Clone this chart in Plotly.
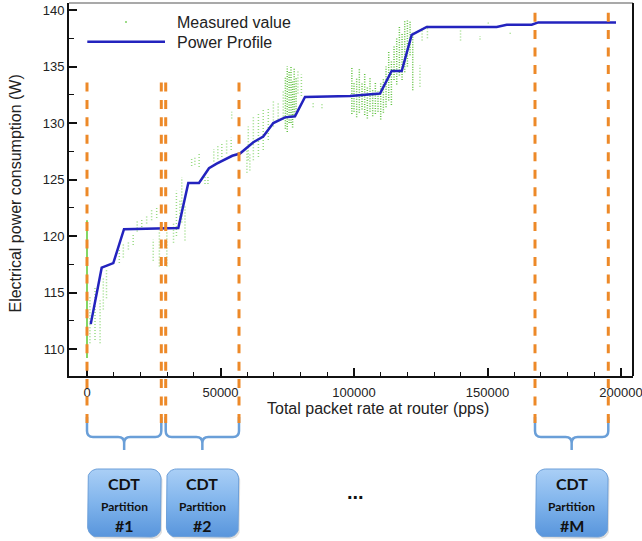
import numpy as np
import plotly.graph_objects as go

W, H = 642, 541

# ---- data ---------------------------------------------------------------
# Piecewise-linear power profile (pps -> W)
profile_rate = [1400, 5500, 9850, 13860, 34200, 37940, 41950, 45690, 48570,
                54420, 57300, 62300, 66000, 69780, 74160, 77900, 81650, 98500,
                109740, 114100, 117870, 121600, 127230, 153450, 157200,
                166550, 169020, 198130]
profile_power = [112.2, 117.2, 117.6, 120.6, 120.7, 124.7, 124.7, 126.0, 126.4,
                 127.1, 127.3, 128.3, 128.8, 130.0, 130.5, 130.6, 132.3, 132.4,
                 132.6, 134.6, 134.6, 137.8, 138.5, 138.5, 138.7,
                 138.7, 138.9, 138.9]

# Measured samples: each entry is a run of readings at one packet rate
meas_rate = [1100, 3000, 4900, 6100, 7300, 12100, 13600, 15500, 17300, 18800,
             20500, 22350, 24200, 26100, 24800, 27100, 29900, 32400, 33500,
             34800, 35500, 36700, 39200, 40400, 42000, 44200, 45300, 47500,
             49000, 50500, 52300, 54000, 54200, 59900, 61000, 60400, 62300,
             64200, 66000, 67900, 69800, 71600, 73500, 79000, 80300, 84700,
             88000, 124700, 125500, 127500, 139900, 147200, 150300, 158500]
meas_low = [110.5, 110.8, 110.5, 113.5, 114.5, 117.6, 118.1, 118.8, 119.2, 120.4,
            120.8, 121.1, 121.4, 121.6, 117.8, 117.3, 117.3, 119.4, 120.0,
            121.7, 121.2, 119.6, 126.2, 126.3, 126.1, 124.6, 124.6, 126.6,
            126.8, 127.0, 127.3, 127.6, 130.4, 125.6, 125.8, 126.7, 126.7,
            127.0, 127.6, 128.5, 129.7, 130.3, 130.3, 132.6, 132.4, 131.4,
            131.3, 133.2, 137.3, 137.5, 137.3, 137.4, 138.8, 137.9]
meas_high = [114.6, 115.5, 114.3, 116.4, 117.0, 118.9, 119.4, 119.6, 120.1, 121.3,
             121.6, 121.9, 122.3, 122.6, 119.7, 120.5, 120.3, 121.1, 124.0,
             123.2, 125.2, 122.6, 126.9, 127.1, 127.3, 125.2, 125.3, 127.7,
             128.0, 128.2, 128.5, 128.7, 131.0, 127.6, 127.4, 129.7, 130.6,
             130.9, 131.2, 131.4, 132.0, 131.8, 132.8, 134.7, 134.3, 131.8,
             131.7, 135.1, 138.4, 138.6, 138.2, 137.7, 139.0, 138.1]

# Dense measurement clusters (around the big steps)
dense_rate = [74300, 75000, 75700, 76400, 77000, 77600, 78300,
              99200, 100000, 101000, 102000, 103000, 104000, 105000, 106000,
              107000, 108000, 109000, 110000, 111000, 112000, 113000, 114000,
              115000, 116000, 117000, 118000, 119000, 120000, 121000, 122000]
dense_low = [129.5, 129.2, 130.0, 130.0, 129.6, 130.5, 131.0,
             130.8, 131.0, 130.5, 130.9, 131.2, 130.7, 130.4, 131.0,
             130.6, 130.8, 131.0, 130.3, 130.9, 131.4, 132.0, 131.6,
             133.8, 133.4, 134.2, 133.8, 134.5, 135.0, 136.0, 132.9]
dense_high = [134.0, 135.0, 134.6, 135.0, 133.8, 134.8, 134.0,
              135.0, 133.6, 134.0, 134.8, 133.5, 134.4, 133.2, 134.0,
              133.0, 133.6, 132.8, 133.5, 134.0, 135.0, 136.4, 135.5,
              136.8, 137.5, 138.6, 138.0, 139.0, 139.1, 139.0, 138.0]

# Readings with no traffic
idle_rate = 0
idle_low, idle_high = 109.2, 121.4

# CDT partitions: (lower bound, upper bound, label)
part_lo = [0, 29480, 167790]
part_hi = [27830, 56930, 195240]
part_label = ["#1", "#2", "#M"]
# Boundaries whose markers start lower inside the plot
low_marker_edges = [0, 27830, 29480, 56930]
high_marker_edges = [167790, 195240]

x_tick_vals = [0, 50000, 100000, 150000, 200000]
y_tick_vals = [110, 115, 120, 125, 130, 135, 140]

# ---- layout geometry (pixels) -------------------------------------------
PL, PR, PT, PB = 69, 633, 3, 376
X_RANGE = [-6741, 204494]
Y_RANGE = [107.61, 140.62]
xscale = (X_RANGE[1] - X_RANGE[0]) / (PR - PL)   # pps per pixel

FONT = "Liberation Sans, Arial, sans-serif"
BLUE = "#2323BE"
GREEN = "rgba(70,190,30,0.55)"
GREEN_DENSE = "rgba(60,180,20,0.8)"
ORANGE = "#ED8928"
BRACE = "#6A9FD8"


def runs(xv, lo, hi):
    xs, ys = [], []
    for x, a, b in zip(xv, lo, hi):
        xs += [x, x, None]
        ys += [a, b, None]
    return xs, ys


def rounded_rect(x0, x1, y0, y1, rpx, n=10):
    rx, ry = rpx * xscale, rpx
    pts = []
    for cx, cy, t0, t1 in [(x1 - rx, y0 + ry, 90, 0), (x1 - rx, y1 - ry, 0, -90),
                           (x0 + rx, y1 - ry, -90, -180), (x0 + rx, y0 + ry, 180, 90)]:
        t = np.radians(np.linspace(t0, t1, n))
        pts += list(zip(cx + rx * np.cos(t), cy - ry * np.sin(t)))
    pts.append(pts[0])
    return [p[0] for p in pts], [p[1] for p in pts]


fig = go.Figure()

mx, my = runs(meas_rate, meas_low, meas_high)
fig.add_trace(go.Scatter(x=mx, y=my, mode="lines", hoverinfo="skip",
                         line=dict(color=GREEN, width=1.5, dash="1px,2px")))
dx, dy = runs(dense_rate, dense_low, dense_high)
fig.add_trace(go.Scatter(x=dx, y=dy, mode="lines", hoverinfo="skip",
                         line=dict(color=GREEN_DENSE, width=1.5, dash="1px,1.5px")))
fig.add_trace(go.Scatter(x=[idle_rate, idle_rate], y=[idle_low, idle_high],
                         mode="lines", hoverinfo="skip",
                         line=dict(color="rgb(90,200,50)", width=1.5)))
fig.add_trace(go.Scatter(x=profile_rate, y=profile_power, mode="lines",
                         line=dict(color=BLUE, width=2.5)))

# CDT partition boxes (x in pps, y in pixels)
BOX_TOP, BOX_BOT = 469, 537
for lo, hi, lab in zip(part_lo, part_hi, part_label):
    bx0, bx1 = lo + 0.7 * xscale, hi - 0.3 * xscale
    sx, sy = rounded_rect(bx0 + 1.5 * xscale, bx1 + 1.5 * xscale,
                          BOX_TOP + 2, BOX_BOT + 2, 10)
    fig.add_trace(go.Scatter(x=sx, y=sy, xaxis="x", yaxis="y2", mode="lines",
                             fill="toself", fillcolor="rgba(0,0,0,0.13)",
                             line=dict(width=0), hoverinfo="skip"))
    bx, by = rounded_rect(bx0, bx1, BOX_TOP, BOX_BOT, 10)
    fig.add_trace(go.Scatter(
        x=bx, y=by, xaxis="x", yaxis="y2", mode="lines", fill="toself",
        fillgradient=dict(type="vertical", start=BOX_TOP, stop=BOX_BOT,
                          colorscale=[[0, "#AACFF6"], [0.5, "#80B4EC"], [1, "#5895DC"]]),
        line=dict(color="#6C9FD9", width=1), hoverinfo="skip"))
    cx = (lo + hi) / 2
    for txt, yy, sz in [("CDT", 483.5, 16), ("Partition", 506, 12), (lab, 525, 16)]:
        fig.add_annotation(x=cx, y=yy, xref="x", yref="y2", text=f"<b>{txt}</b>",
                           showarrow=False, xanchor="center", yanchor="middle",
                           font=dict(family="Lato, sans-serif", size=sz, color="#111"))

shapes = []
# braces under each partition
r = 6
for lo, hi in zip(part_lo, part_hi):
    c = (lo + hi) / 2
    rx = r * xscale
    path = (f"M {lo},417 L {lo},{437 - r} Q {lo},437 {lo + rx},437 L {c - rx},437 "
            f"Q {c},437 {c},{437 + r} L {c},450 M {c},{437 + r} Q {c},437 {c + rx},437 "
            f"L {hi - rx},437 Q {hi},437 {hi},{437 - r} L {hi},417")
    shapes.append(dict(type="path", xref="x", yref="y2", path=path,
                       line=dict(color=BRACE, width=2.5), layer="above"))
# partition boundary markers
for edges, top in [(low_marker_edges, 74), (high_marker_edges, 12)]:
    for e in edges:
        shapes.append(dict(type="line", xref="x", yref="y2", x0=e, x1=e, y0=423, y1=top,
                           line=dict(color=ORANGE, width=3, dash="9px,8.45px"),
                           layer="above"))
# frame
shapes.append(dict(type="line", xref="paper", yref="paper", x0=PL / W, x1=PR / W,
                   y0=1 - PT / H, y1=1 - PT / H, line=dict(color="#555", width=1.2)))
shapes.append(dict(type="line", xref="paper", yref="paper", x0=PR / W, x1=PR / W,
                   y0=1 - PT / H, y1=1 - PB / H, line=dict(color="#111", width=2)))
# legend samples
shapes.append(dict(type="line", xref="paper", yref="paper", x0=87.3 / W, x1=165 / W,
                   y0=1 - 41.7 / H, y1=1 - 41.7 / H, line=dict(color=BLUE, width=2.5)))
shapes.append(dict(type="circle", xref="paper", yref="paper", x0=125 / W, x1=127 / W,
                   y0=1 - 23 / H, y1=1 - 21 / H, fillcolor="rgba(70,190,30,0.7)",
                   line=dict(width=0)))

ann_font = dict(family=FONT, size=16, color="#222")
annotations = [
    dict(x=175 / W, y=1 - 22.7 / H, text="Measured value", xanchor="left"),
    dict(x=175 / W, y=1 - 42.7 / H, text="Power Profile", xanchor="left"),
    dict(x=378 / W, y=1 - 408 / H, text="Total packet rate at router (pps)", xanchor="center"),
    dict(x=15 / W, y=1 - 193.5 / H, text="Electrical power consumption (W)",
         xanchor="center", textangle=-90),
]
for a in annotations:
    fig.add_annotation(xref="paper", yref="paper", yanchor="middle", showarrow=False,
                       font=ann_font, **a)
fig.add_annotation(xref="paper", yref="paper", x=355 / W, y=1 - 505 / H, text="<b>...</b>",
                   showarrow=False, font=dict(family=FONT, size=20, color="#111"))

axis_common = dict(showgrid=False, zeroline=False, showline=True, linecolor="#111",
                   linewidth=2, ticks="inside", tickcolor="#111", tickwidth=1.5,
                   ticklen=8, tickfont=dict(family=FONT, size=13, color="#222"),
                   automargin=False, ticklabeloverflow="allow")

fig.update_layout(
    width=W, height=H,
    margin=dict(l=0, r=0, t=0, b=0),
    paper_bgcolor="white", plot_bgcolor="rgba(0,0,0,0)",
    showlegend=False,
    xaxis=dict(domain=[PL / W, PR / W], range=X_RANGE, anchor="y",
               tickvals=x_tick_vals, ticktext=[str(v) for v in x_tick_vals],
               ticklabelstandoff=3,
               minor=dict(dtick=10000, tick0=0, ticks="inside", ticklen=4,
                          tickcolor="#111", tickwidth=1),
               **axis_common),
    yaxis=dict(domain=[1 - PB / H, 1 - PT / H], range=Y_RANGE, anchor="x",
               tickvals=y_tick_vals,
               minor=dict(dtick=2.5, tick0=110, ticks="inside", ticklen=5,
                          tickcolor="#111", tickwidth=1),
               **axis_common),
    yaxis2=dict(domain=[0, 1], range=[H, 0], visible=False, anchor="x",
                fixedrange=True),
    shapes=shapes,
)

fig.write_html("out.html")
